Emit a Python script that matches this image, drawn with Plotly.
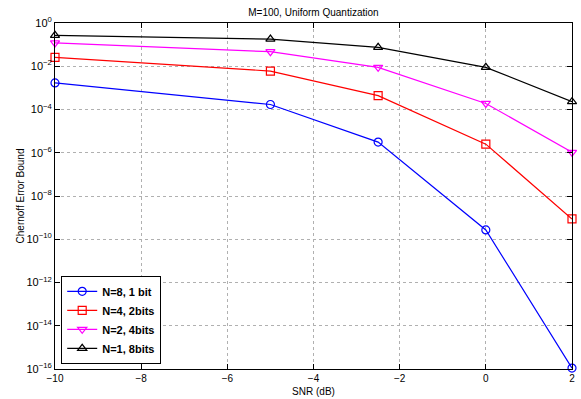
import plotly.graph_objects as go

snr = [-10, -5, -2.5, 0, 2]
n8_1bit = [1.7e-3, 1.7e-4, 3.1e-6, 2.7e-10, 1.1e-16]
n4_2bits = [2.6e-2, 6.0e-3, 4.4e-4, 2.5e-6, 8.7e-10]
n2_4bits = [0.12, 0.047, 8.9e-3, 1.9e-4, 1.05e-6]
n1_8bits = [0.27, 0.18, 0.075, 8.9e-3, 2.3e-4]

names = ["N=8, 1 bit", "N=4, 2bits", "N=2, 4bits", "N=1, 8bits"]
series = [n8_1bit, n4_2bits, n2_4bits, n1_8bits]
colors = ["#0000ff", "#ff0000", "#ff00ff", "#000000"]
symbols = ["circle-open", "square-open", "triangle-down-open", "triangle-up-open"]

xticks = [-10, -8, -6, -4, -2, 0, 2]
yexps = [0, -2, -4, -6, -8, -10, -12, -14, -16]

fig = go.Figure()
for name, ys, c, s in zip(names, series, colors, symbols):
    fig.add_trace(go.Scatter(
        x=snr, y=ys, name=name, mode="lines+markers",
        line=dict(color=c, width=1.2),
        marker=dict(symbol=s, size=8, color=c, line=dict(width=1.2, color=c)),
        cliponaxis=False,
    ))

fig.update_layout(
    width=581, height=399,
    margin=dict(l=55, r=9, t=23, b=30),
    paper_bgcolor="white", plot_bgcolor="white",
    font=dict(family="Liberation Sans, Arial, sans-serif", size=10, color="black"),
    title=dict(text="M=100, Uniform Quantization", x=0.5395, xanchor="center",
               y=0.978, yanchor="top", font=dict(size=10)),
    showlegend=True,
    legend=dict(x=0.012, y=0.015, xanchor="left", yanchor="bottom",
                bgcolor="white", bordercolor="black", borderwidth=1,
                font=dict(size=11, family="Liberation Sans, Arial, sans-serif", weight="bold"),
                tracegroupgap=0, itemwidth=30),
)
fig.update_xaxes(
    range=[-10, 2], tickvals=xticks, ticktext=[str(v).replace("-", "−") for v in xticks],
    showline=True, linecolor="black", linewidth=1, mirror="ticks",
    ticks="inside", ticklen=5, tickcolor="black",
    showgrid=True, gridcolor="#b0b0b0", griddash="dot", gridwidth=1,
    zeroline=False, automargin=False,
    title=dict(text="SNR (dB)", standoff=4, font=dict(size=10)),
    tickfont=dict(size=10),
)
fig.update_yaxes(
    type="log", range=[-16, 0],
    tickvals=[10.0 ** e for e in yexps],
    ticktext=["10<sup>" + str(e).replace("-", "−") + "</sup>" for e in yexps],
    showline=True, linecolor="black", linewidth=1, mirror="ticks",
    ticks="inside", ticklen=5, tickcolor="black",
    showgrid=True, gridcolor="#b0b0b0", griddash="dot", gridwidth=1,
    zeroline=False, automargin=False,
    title=dict(text="Chernoff Error Bound", standoff=0, font=dict(size=10)),
    tickfont=dict(size=11),
)

fig.write_html("out.html")
